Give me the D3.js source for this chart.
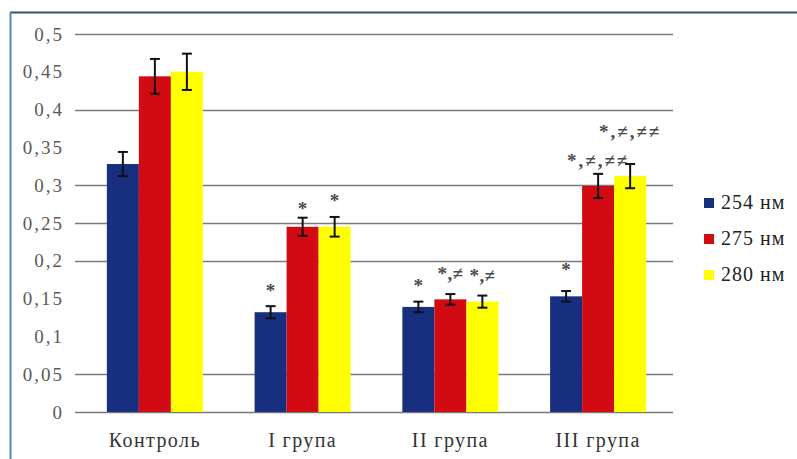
<!DOCTYPE html>
<html><head><meta charset="utf-8">
<script src="https://cdn.jsdelivr.net/npm/d3@7"></script>
<style>
body{margin:0;background:#fff;}
svg{display:block;}
</style></head>
<body>
<svg id="c" width="797" height="459"></svg>
<script>
const categories = ["Контроль", "I група", "II група", "III група"];
const seriesNames = ["254 нм", "275 нм", "280 нм"];
const values254 = [0.328, 0.132, 0.139, 0.153];
const values275 = [0.444, 0.245, 0.149, 0.299];
const values280 = [0.450, 0.245, 0.146, 0.312];
const errors254 = [0.016, 0.008, 0.007, 0.007];
const errors275 = [0.023, 0.012, 0.007, 0.016];
const errors280 = [0.024, 0.013, 0.008, 0.016];
const notes254 = ["", "*", "*", "*"];
const notes275 = ["", "*", "*,≠", "*,≠,≠≠"];
const notes280 = ["", "*", "*,≠", "*,≠,≠≠"];
const noteLevel254 = [null, 0.165, 0.172, 0.193];
const noteLevel275 = [null, 0.274, 0.188, 0.337];
const noteLevel280 = [null, 0.284, 0.185, 0.376];
const tickValues = [0, 0.05, 0.1, 0.15, 0.2, 0.25, 0.3, 0.35, 0.4, 0.45, 0.5];
const gridValues = [0, 0.05, 0.2, 0.25, 0.3, 0.4, 0.5];
const colors = ["#172f7e", "#d20a12", "#ffff00"];

const series = [
  {name: seriesNames[0], vals: values254, errs: errors254, notes: notes254, lv: noteLevel254},
  {name: seriesNames[1], vals: values275, errs: errors275, notes: notes275, lv: noteLevel275},
  {name: seriesNames[2], vals: values280, errs: errors280, notes: notes280, lv: noteLevel280}
];

const svg = d3.select("#c");
const FONT = '"Liberation Serif"';

// frame
svg.append("line").attr("x1",10).attr("x2",797).attr("y1",12.5).attr("y2",12.5)
  .attr("stroke","#3e4f68").attr("stroke-width",2);
svg.append("line").attr("x1",10.5).attr("x2",10.5).attr("y1",12).attr("y2",459)
  .attr("stroke","#5b82bf").attr("stroke-width",2);

const y = d3.scaleLinear().domain([0, 0.5]).range([412, 34]);
const x0 = d3.scaleBand().domain(categories).range([81, 672]).paddingInner(0.35).paddingOuter(0.175);
const x1 = d3.scaleBand().domain(seriesNames).range([0, x0.bandwidth()]);

// grid
svg.append("g").selectAll("line").data(gridValues).join("line")
  .attr("x1",75).attr("x2",673)
  .attr("y1",d=>Math.round(y(d))+0.5).attr("y2",d=>Math.round(y(d))+0.5)
  .attr("stroke","#7a7a7a").attr("stroke-width",1.5);

// y axis labels
const yAxis = d3.axisLeft(y).tickValues(tickValues).tickSize(0).tickPadding(0)
  .tickFormat(d => d3.format("~g")(d).replace(".", ","));
const ga = svg.append("g").attr("transform","translate(64,0)").call(yAxis);
ga.select(".domain").remove();
ga.selectAll("text").style("font-family",FONT).attr("font-size",19)
  .attr("letter-spacing",2).attr("fill","#5a5a5a");

// bars
const groups = svg.append("g").selectAll("g").data(series).join("g")
  .attr("fill",(d,i)=>colors[i]);
groups.selectAll("rect").data((s,si)=>s.vals.map((v,ci)=>({v, ci, si, name:s.name})))
  .join("rect")
  .attr("x",d=>x0(categories[d.ci])+x1(d.name))
  .attr("width",x1.bandwidth())
  .attr("y",d=>y(d.v))
  .attr("height",d=>y(0)-y(d.v));

// error bars
series.forEach((s,si)=>{
  const g = svg.append("g").attr("stroke","#111").attr("stroke-width",2);
  s.vals.forEach((v,ci)=>{
    const cx = x0(categories[ci]) + x1(s.name) + x1.bandwidth()/2;
    const e = s.errs[ci];
    g.append("line").attr("x1",cx).attr("x2",cx).attr("y1",y(v+e)).attr("y2",y(v-e));
    g.append("line").attr("x1",cx-5).attr("x2",cx+5).attr("y1",y(v+e)).attr("y2",y(v+e));
    g.append("line").attr("x1",cx-5).attr("x2",cx+5).attr("y1",y(v-e)).attr("y2",y(v-e));
  });
});

// significance notes
series.forEach((s,si)=>{
  s.notes.forEach((t,ci)=>{
    if(!t) return;
    const cx = x0(categories[ci]) + x1(s.name) + x1.bandwidth()/2;
    svg.append("text").attr("x",cx).attr("y",y(s.lv[ci])+10)
      .attr("text-anchor","middle").style("font-family",FONT).attr("font-size",19)
      .attr("font-weight","bold").attr("letter-spacing",t.length > 4 ? 2 : 0.3)
      .attr("fill","#4a4a4a").text(t);
  });
});

// category labels
svg.append("g").selectAll("text").data(categories).join("text")
  .attr("x",d=>x0(d)+x0.bandwidth()/2).attr("y",447)
  .attr("text-anchor","middle").style("font-family",FONT).attr("font-size",20)
  .attr("letter-spacing",1.4).attr("fill","#333").text(d=>d);

// legend
const leg = svg.append("g").selectAll("g").data(seriesNames).join("g")
  .attr("transform",(d,i)=>`translate(704,${203 + i*36})`);
leg.append("rect").attr("x",0).attr("y",-5).attr("width",10).attr("height",10)
  .attr("fill",(d,i)=>colors[i]);
leg.append("text").attr("x",17).attr("y",6).style("font-family",FONT).attr("font-size",20)
  .attr("letter-spacing",1).attr("fill","#222").text(d=>d);
</script>
</body></html>
